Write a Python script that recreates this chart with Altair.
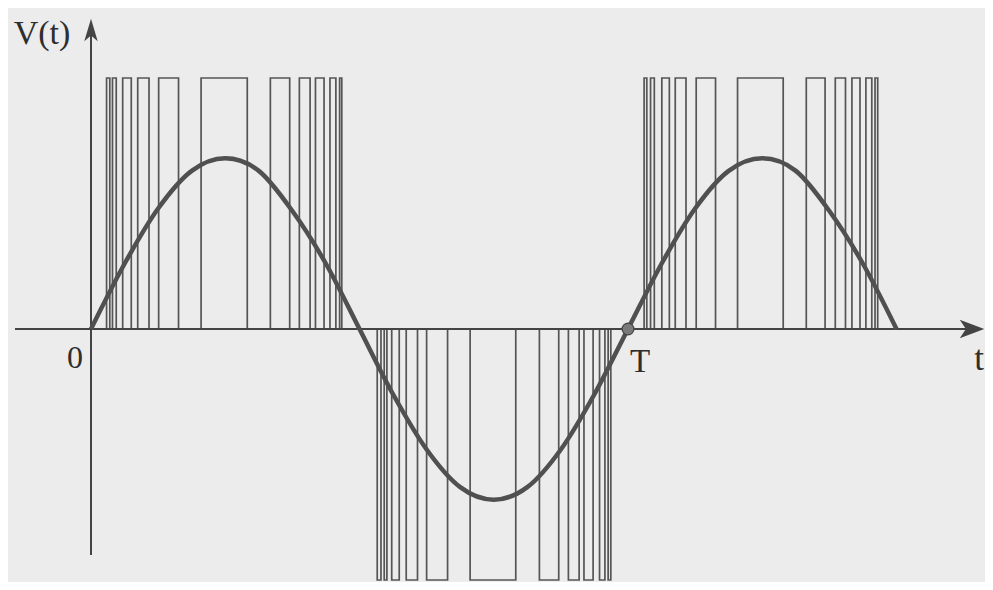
import altair as alt
import pandas as pd

# ---- data (time in units of the period T, voltage in pulse units) ----
pos1_start = [0.029, 0.040, 0.059, 0.087, 0.126, 0.205, 0.334, 0.388, 0.418, 0.445, 0.463]
pos1_end   = [0.035, 0.047, 0.075, 0.108, 0.163, 0.291, 0.370, 0.408, 0.434, 0.456, 0.467]
neg_start  = [0.533, 0.546, 0.560, 0.587, 0.625, 0.706, 0.835, 0.889, 0.918, 0.947, 0.963]
neg_end    = [0.540, 0.551, 0.574, 0.608, 0.664, 0.791, 0.871, 0.909, 0.935, 0.957, 0.968]
pos2_start = [1.030, 1.042, 1.063, 1.088, 1.127, 1.204, 1.332, 1.386, 1.417, 1.443, 1.460]
pos2_end   = [1.035, 1.049, 1.077, 1.108, 1.163, 1.289, 1.367, 1.405, 1.432, 1.454, 1.465]
pulse_levels = [1.0, -1.0, 1.0]

sine_t = [0.0, 0.0625, 0.125, 0.1875, 0.25, 0.3125, 0.375, 0.4375, 0.5,
          0.5625, 0.625, 0.6875, 0.75, 0.8125, 0.875, 0.9375, 1.0,
          1.0625, 1.125, 1.1875, 1.25, 1.3125, 1.375, 1.4375, 1.5]
sine_v = [0.0, 0.26, 0.48, 0.63, 0.68, 0.63, 0.47, 0.26, 0.0,
          -0.26, -0.48, -0.63, -0.68, -0.63, -0.48, -0.26, 0.0,
          0.26, 0.48, 0.63, 0.68, 0.63, 0.47, 0.26, 0.0]

labels = ["V(t)", "0", "T", "t"]

# ---- tables ----
rows = []
for starts, ends, lvl in zip([pos1_start, neg_start, pos2_start],
                             [pos1_end, neg_end, pos2_end], pulse_levels):
    for a, b in zip(starts, ends):
        rows.append({"t0": a, "t1": b, "v": lvl, "v0": 0.0})
pulses = pd.DataFrame(rows)
sine = pd.DataFrame({"t": sine_t, "v": sine_v})

# ---- layout (pixels) ----
W, H = 977, 574
x0px, Tpx = 83, 537          # t=0 at x0px, one period = Tpx pixels
y0px, Upx = 321, 251         # v=0 at y0px, one pulse unit = Upx pixels
xdom = [(-x0px) / Tpx, (W - x0px) / Tpx]
ydom = [(y0px - H) / Upx, y0px / Upx]
xs = alt.Scale(domain=xdom, nice=False, zero=False)
ys = alt.Scale(domain=ydom, nice=False, zero=False)

def px_t(px):   # page x -> t
    return (px - 8 - x0px) / Tpx

def px_v(py):   # page y -> v
    return (y0px - (py - 8)) / Upx

ink = "#444444"

pulse_layer = alt.Chart(pulses).mark_rect(
    fillOpacity=0, stroke="#555555", strokeWidth=1.7
).encode(
    x=alt.X("t0:Q", scale=xs, axis=None), x2="t1:Q",
    y=alt.Y("v:Q", scale=ys, axis=None), y2="v0:Q",
)

sine_layer = alt.Chart(sine).mark_line(
    color="#505050", strokeWidth=4.5, interpolate="cardinal"
).encode(
    x=alt.X("t:Q", scale=xs, axis=None),
    y=alt.Y("v:Q", scale=ys, axis=None),
)

axes_df = pd.DataFrame({
    "ax": [px_t(15), px_t(91)], "ax2": [px_t(975), px_t(91)],
    "ay": [0.0, px_v(555)], "ay2": [0.0, px_v(25)],
})
axes_layer = alt.Chart(axes_df).mark_rule(color=ink, strokeWidth=2).encode(
    x=alt.X("ax:Q", scale=xs, axis=None), x2="ax2:Q",
    y=alt.Y("ay:Q", scale=ys, axis=None), y2="ay2:Q",
)

arrow_up = alt.Chart(pd.DataFrame({"t": [px_t(91)], "v": [px_v(30)]})).mark_point(
    shape="M0,-1L0.6,1L0,0.5L-0.6,1Z", size=500, filled=True, color=ink, opacity=1
).encode(x=alt.X("t:Q", scale=xs, axis=None), y=alt.Y("v:Q", scale=ys, axis=None))

arrow_right = alt.Chart(pd.DataFrame({"t": [px_t(972)], "v": [0.0]})).mark_point(
    shape="M1,0L-1,-0.75L-0.5,0L-1,0.75Z", size=600, filled=True, color=ink, opacity=1
).encode(x=alt.X("t:Q", scale=xs, axis=None), y=alt.Y("v:Q", scale=ys, axis=None))

dot = alt.Chart(pd.DataFrame({"t": [1.0], "v": [0.0]})).mark_point(
    shape="circle", size=140, filled=True, fill="#7a7a7a", stroke="#444444",
    strokeWidth=1.2, opacity=1
).encode(x=alt.X("t:Q", scale=xs, axis=None), y=alt.Y("v:Q", scale=ys, axis=None))

text_df = pd.DataFrame({
    "label": labels,
    "t": [px_t(42), px_t(75), px_t(640), px_t(979)],
    "v": [px_v(34), px_v(358), px_v(362), px_v(359)],
    "fs": [34, 32, 33, 35],
})
text_layer = alt.Chart(text_df).mark_text(
    font="Liberation Serif", color="#2e2e2e", align="center", baseline="middle"
).encode(
    x=alt.X("t:Q", scale=xs, axis=None),
    y=alt.Y("v:Q", scale=ys, axis=None),
    text="label:N",
    size=alt.Size("fs:Q", scale=None, legend=None),
)

chart = alt.layer(
    pulse_layer, axes_layer, sine_layer, arrow_up, arrow_right, dot, text_layer
).properties(
    width=W, height=H, padding=0,
    autosize=alt.AutoSizeParams(type="none"),
    background="#ececec",
).configure_view(stroke=None)

chart.save("out.html", embed_options={"renderer": "svg", "actions": False})
